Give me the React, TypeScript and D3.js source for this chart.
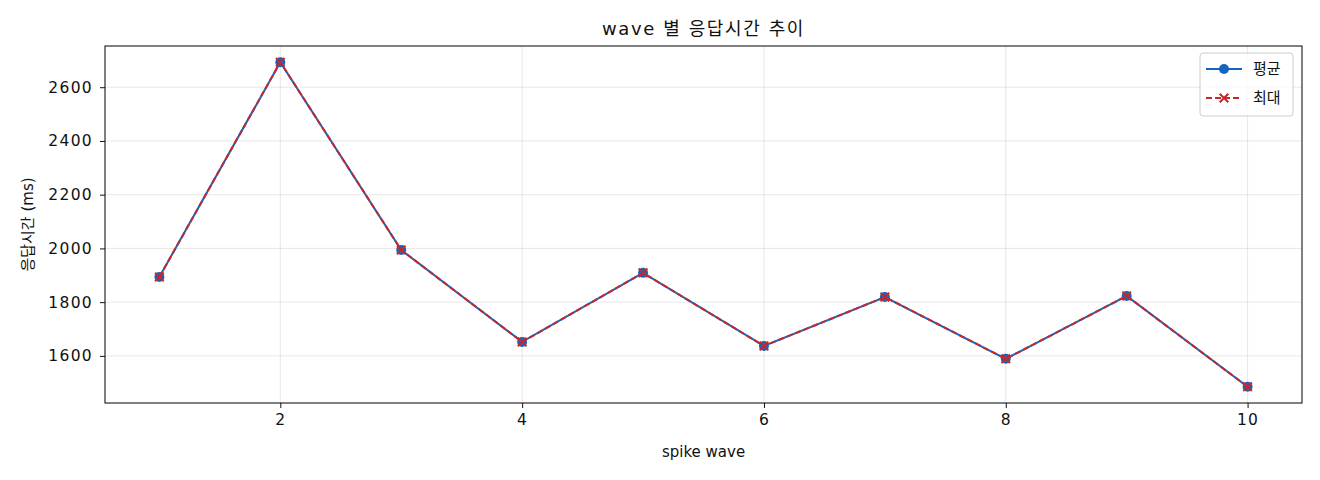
import { useEffect, useRef } from "react"
import * as d3 from "d3"

const waves = [1, 2, 3, 4, 5, 6, 7, 8, 9, 10]
const avgMs = [1894, 2693, 1994, 1652, 1909, 1637, 1819, 1589, 1823, 1485]
const maxMs = [1894, 2693, 1994, 1652, 1909, 1637, 1819, 1589, 1823, 1485]
const xTicks = [2, 4, 6, 8, 10]
const yTicks = [1600, 1800, 2000, 2200, 2400, 2600]

const FONT = "'DejaVu Sans', 'Noto Sans CJK KR', sans-serif"
const BLUE = "#1565c0"
const RED = "#c62828"

export default function App() {
  const svgRef = useRef<SVGSVGElement>(null)

  useEffect(() => {
    document.body.style.margin = "0"
    if (!svgRef.current) return
    const W = 1320
    const H = 480
    const margin = { top: 46, right: 18, bottom: 77, left: 105 }
    const width = W - margin.left - margin.right
    const height = H - margin.top - margin.bottom

    const root = d3.select(svgRef.current)
    root.selectAll("*").remove()
    root.attr("width", W).attr("height", H).style("font-family", FONT)

    const svg = root.append("g").attr("transform", `translate(${margin.left},${margin.top})`)

    const x = d3.scaleLinear().domain([0.55, 10.45]).range([0, width])
    const lo = d3.min([...avgMs, ...maxMs]) || 0
    const hi = d3.max([...avgMs, ...maxMs]) || 1
    const pad = (hi - lo) * 0.05
    const y = d3.scaleLinear().domain([lo - pad, hi + pad]).range([height, 0])

    // Grid
    svg.append("g")
      .selectAll("line")
      .data(xTicks)
      .enter()
      .append("line")
      .attr("x1", (d) => x(d)).attr("x2", (d) => x(d))
      .attr("y1", 0).attr("y2", height)
      .attr("stroke", "#b0b0b0").attr("stroke-opacity", 0.3).attr("stroke-width", 1)
    svg.append("g")
      .selectAll("line")
      .data(yTicks)
      .enter()
      .append("line")
      .attr("y1", (d) => y(d)).attr("y2", (d) => y(d))
      .attr("x1", 0).attr("x2", width)
      .attr("stroke", "#b0b0b0").attr("stroke-opacity", 0.3).attr("stroke-width", 1)

    // Axes
    const xAxis = svg.append("g")
      .attr("transform", `translate(0,${height})`)
      .call(d3.axisBottom(x).tickValues(xTicks).tickSize(5).tickPadding(6).tickFormat(d3.format("d")))
    const yAxis = svg.append("g")
      .call(d3.axisLeft(y).tickValues(yTicks).tickSize(5).tickPadding(7).tickFormat(d3.format("d")))
    for (const ax of [xAxis, yAxis]) {
      ax.select(".domain").remove()
      ax.selectAll("text")
        .style("font-size", "15.5px").style("font-family", FONT)
        .style("letter-spacing", "1.3px").attr("fill", "#111")
      ax.selectAll("line").attr("stroke", "#111")
    }

    // Frame
    svg.append("rect")
      .attr("width", width).attr("height", height)
      .attr("fill", "none").attr("stroke", "#000").attr("stroke-width", 1)

    // Lines
    const line = d3.line<number>().x((_, i) => x(waves[i])).y((d) => y(d))

    svg.append("path")
      .datum(avgMs)
      .attr("d", line)
      .attr("fill", "none").attr("stroke", BLUE).attr("stroke-width", 2)
    svg.selectAll("circle.avg")
      .data(avgMs)
      .enter()
      .append("circle")
      .attr("cx", (_, i) => x(waves[i])).attr("cy", (d) => y(d))
      .attr("r", 5).attr("fill", BLUE)

    svg.append("path")
      .datum(maxMs)
      .attr("d", line)
      .attr("fill", "none").attr("stroke", RED).attr("stroke-width", 2)
      .attr("stroke-dasharray", "6,3")
    const cross = d3.symbol().type(d3.symbolX).size(50)
    svg.selectAll("path.max")
      .data(maxMs)
      .enter()
      .append("path")
      .attr("d", cross)
      .attr("transform", (d, i) => `translate(${x(waves[i])},${y(d)})`)
      .attr("fill", "none").attr("stroke", RED).attr("stroke-width", 2)

    // Title & labels
    root.append("text")
      .attr("x", margin.left + width / 2).attr("y", 35)
      .attr("text-anchor", "middle").style("font-size", "18px")
      .style("letter-spacing", "1.6px").attr("fill", "#111")
      .text("wave 별 응답시간 추이")
    root.append("text")
      .attr("x", margin.left + width / 2).attr("y", margin.top + height + 54)
      .attr("text-anchor", "middle").style("font-size", "15px").attr("fill", "#111")
      .text("spike wave")
    root.append("text")
      .attr("transform", `translate(33,${margin.top + height / 2}) rotate(-90)`)
      .attr("text-anchor", "middle").style("font-size", "15px").attr("fill", "#111")
      .text("응답시간 (ms)")

    // Legend
    const lg = root.append("g").attr("transform", "translate(1200,53)")
    lg.append("rect")
      .attr("width", 93).attr("height", 63).attr("rx", 3)
      .attr("fill", "#fff").attr("fill-opacity", 0.8)
      .attr("stroke", "#ccc").attr("stroke-width", 1)
    const entries = [
      { label: "평균", color: BLUE, dash: null as string | null, marker: "circle" },
      { label: "최대", color: RED, dash: "6,3", marker: "x" },
    ]
    entries.forEach((e, i) => {
      const cy = 16 + i * 29
      lg.append("line")
        .attr("x1", 6).attr("x2", 42).attr("y1", cy).attr("y2", cy)
        .attr("stroke", e.color).attr("stroke-width", 2)
        .attr("stroke-dasharray", e.dash)
      if (e.marker === "circle") {
        lg.append("circle").attr("cx", 24).attr("cy", cy).attr("r", 5).attr("fill", e.color)
      } else {
        lg.append("path").attr("d", cross).attr("transform", `translate(24,${cy})`)
          .attr("stroke", e.color).attr("stroke-width", 2).attr("fill", "none")
      }
      lg.append("text")
        .attr("x", 53).attr("y", cy).attr("dy", "0.35em")
        .style("font-size", "15px").attr("fill", "#111")
        .text(e.label)
    })
  }, [])

  return <svg ref={svgRef} style={{ display: "block" }} />
}
